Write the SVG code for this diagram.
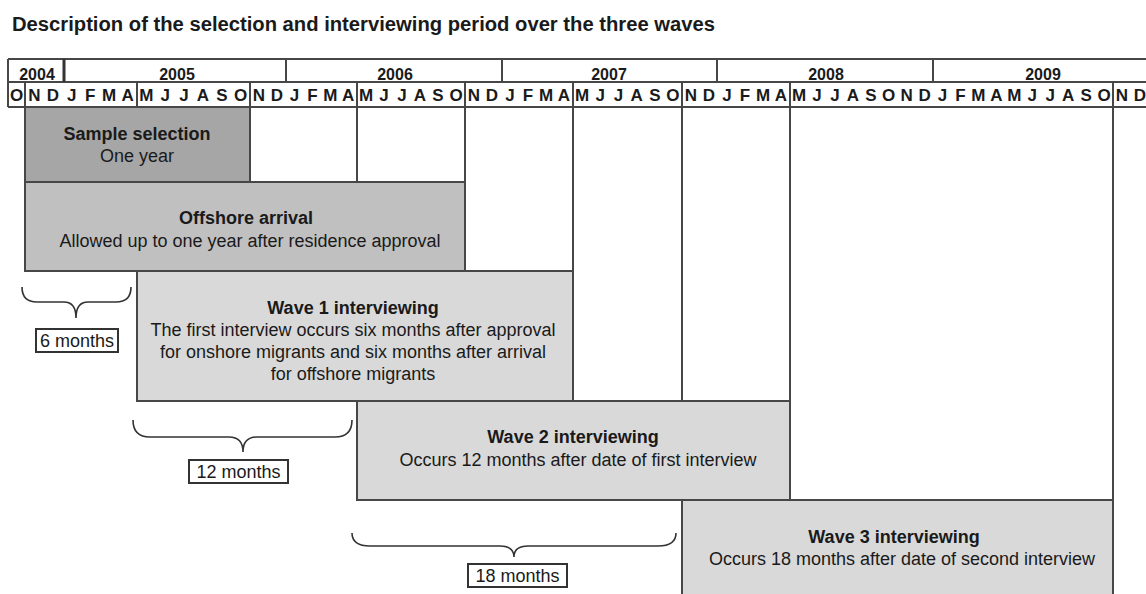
<svg xmlns="http://www.w3.org/2000/svg" width="1146" height="594" viewBox="0 0 1146 594">
<style>
text{font-family:"Liberation Sans",Arial,sans-serif;fill:#1a1a1a}
.title{font-size:20px;font-weight:bold}
.yr{font-size:16px;font-weight:bold;text-anchor:middle}
.mo{font-size:17px;font-weight:bold;text-anchor:middle}
.h{font-size:18px;font-weight:bold;text-anchor:middle}
.b{font-size:18px;text-anchor:middle}
.ln{stroke:#474747;stroke-width:2;fill:none}
.box{stroke:#474747;stroke-width:2}
.brace{stroke:#333;stroke-width:1.6;fill:none}
.lbl{fill:#fff;stroke:#333;stroke-width:2}
</style>
<rect width="1146" height="594" fill="#fff"/>
<text class="title" x="12" y="31" textLength="703" lengthAdjust="spacingAndGlyphs">Description of the selection and interviewing period over the three waves</text>

<g id="timeline-header">
<path class="ln" d="M8,59H1146M8,82H1146M8,107H1146M8,59V107M286,59V82M502,59V82M717,59V82M933,59V82M25,82V107M137,82V107M250,82V107M357,82V107M465,82V107M573,82V107M682,82V107M790,82V107M1113,82V107"/>
<path stroke="#333" stroke-width="3" d="M64,59V82"/>
<text class="yr" x="37" y="80">2004</text>
<text class="yr" x="177" y="80">2005</text>
<text class="yr" x="395" y="80">2006</text>
<text class="yr" x="609" y="80">2007</text>
<text class="yr" x="826" y="80">2008</text>
<text class="yr" x="1043" y="80">2009</text>
<text class="mo" x="16.5" y="101">O</text>
<text class="mo" x="34.3 53 71.7 90.3 109 127.7" y="101">NDJFMA</text>
<text class="mo" x="146.4 165.3 184.1 203 221.8 240.6" y="101">MJJASO</text>
<text class="mo" x="258.9 276.8 294.6 312.4 330.3 348.1" y="101">NDJFMA</text>
<text class="mo" x="366 384 402 420 438 456" y="101">MJJASO</text>
<text class="mo" x="474 492 510 528 546 564" y="101">NDJFMA</text>
<text class="mo" x="582.1 600.2 618.4 636.6 654.8 672.9" y="101">MJJASO</text>
<text class="mo" x="691 709 727 745 763 781" y="101">NDJFMA</text>
<text class="mo" x="799 816.9 834.9 852.8 870.8 888.7 906.6 924.6 942.5 960.5 978.4 996.4 1014.3 1032.3 1050.2 1068.1 1086.1 1104" y="101">MJJASONDJFMAMJJASO</text>
<text class="mo" x="1122 1140" y="101">ND</text>
</g>

<g id="grid">
<path class="ln" d="M250,107V182M357,107V182M465,107V271M573,107V401M682,107V594M790,107V500M1113,107V594"/>
</g>

<g id="sample-selection">
<rect class="box" x="25" y="107" width="225" height="75" fill="#a6a6a6"/>
<text class="h" x="137" y="140">Sample selection</text>
<text class="b" x="137" y="162">One year</text>
</g>

<g id="offshore-arrival">
<rect class="box" x="25" y="182" width="440" height="89" fill="#c0c0c0"/>
<text class="h" x="246" y="224">Offshore arrival</text>
<text class="b" x="250" y="247">Allowed up to one year after residence approval</text>
</g>

<g id="wave1">
<rect class="box" x="137" y="271" width="436" height="130" fill="#d9d9d9"/>
<text class="h" x="353" y="314">Wave 1 interviewing</text>
<text class="b" x="353" y="336">The first interview occurs six months after approval</text>
<text class="b" x="353" y="358">for onshore migrants and six months after arrival</text>
<text class="b" x="353" y="380">for offshore migrants</text>
</g>

<g id="wave2">
<rect class="box" x="357" y="401" width="433" height="99" fill="#d9d9d9"/>
<text class="h" x="573" y="443">Wave 2 interviewing</text>
<text class="b" x="578" y="466">Occurs 12 months after date of first interview</text>
</g>

<g id="wave3">
<rect class="box" x="682" y="500" width="431" height="100" fill="#d9d9d9"/>
<text class="h" x="894" y="543">Wave 3 interviewing</text>
<text class="b" x="902" y="565">Occurs 18 months after date of second interview</text>
</g>

<g id="connectors">
<path class="brace" d="M22,287Q22,302 37,302L64,302Q76,302 76,318Q76,302 88,302L116,302Q131,302 131,287"/>
<path class="brace" d="M133,420Q133,437 150,437L229,437Q243,437 243,452Q243,437 257,437L335,437Q352,437 352,420"/>
<path class="brace" d="M352,533Q352,546 370,546L500,546Q514,546 514,557Q514,546 528,546L658,546Q676,546 676,533"/>
</g>

<g id="label-6">
<rect class="lbl" x="36" y="329" width="82" height="23"/>
<text class="b" x="77" y="347">6 months</text>
</g>
<g id="label-12">
<rect class="lbl" x="189" y="460" width="99" height="23"/>
<text class="b" x="238.5" y="478">12 months</text>
</g>
<g id="label-18">
<rect class="lbl" x="468" y="564" width="99" height="23"/>
<text class="b" x="517.5" y="582">18 months</text>
</g>
</svg>
